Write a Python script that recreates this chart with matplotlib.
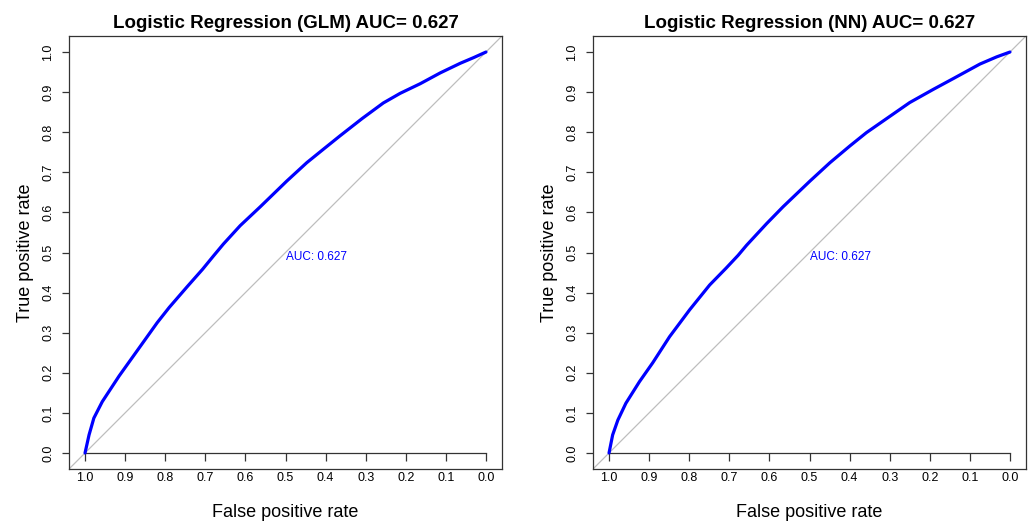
import numpy as np
import matplotlib
matplotlib.use('Agg')
import matplotlib.pyplot as plt

plt.rcParams['font.family'] = ['Liberation Sans', 'DejaVu Sans']

# ROC curves (specificity, sensitivity)
glm_spec = [1.0, 0.990, 0.978, 0.957, 0.915, 0.865, 0.820, 0.790, 0.745, 0.707,
            0.680, 0.655, 0.613, 0.563, 0.497, 0.447, 0.405, 0.364, 0.309, 0.256,
            0.214, 0.164, 0.114, 0.064, 0.031, 0.0]
glm_sens = [0.0, 0.045, 0.087, 0.128, 0.192, 0.262, 0.325, 0.363, 0.415, 0.458,
            0.491, 0.521, 0.567, 0.614, 0.678, 0.724, 0.758, 0.791, 0.834, 0.873,
            0.897, 0.921, 0.948, 0.972, 0.986, 1.0]

nn_spec = [1.0, 0.991, 0.978, 0.958, 0.924, 0.891, 0.849, 0.799, 0.749, 0.708,
           0.678, 0.657, 0.607, 0.566, 0.499, 0.449, 0.399, 0.358, 0.299, 0.250,
           0.191, 0.141, 0.075, 0.033, 0.0]
nn_sens = [0.0, 0.045, 0.082, 0.124, 0.178, 0.225, 0.290, 0.357, 0.419, 0.461,
           0.493, 0.518, 0.572, 0.614, 0.678, 0.724, 0.766, 0.799, 0.840, 0.874,
           0.907, 0.934, 0.970, 0.988, 1.0]

titles = ['Logistic Regression (GLM) AUC= 0.627', 'Logistic Regression (NN) AUC= 0.627']
auc_labels = ['AUC: 0.627', 'AUC: 0.627']
ticks = np.round(np.arange(0, 1.01, 0.1), 1)

fig = plt.figure(figsize=(10.29, 5.22), dpi=100)
lefts = [69 / 1029, 593 / 1029]

for i, (spec, sens) in enumerate([(glm_spec, glm_sens), (nn_spec, nn_sens)]):
    ax = fig.add_axes([lefts[i], 53 / 522, 433 / 1029, 433 / 522])
    ax.set_xlim(1.04, -0.04)
    ax.set_ylim(-0.04, 1.04)

    # diagonal reference
    ax.axline((1, 0), (0, 1), color='#bebebe', lw=0.9, zorder=1)
    ax.plot(spec, sens, color='#0000ff', lw=2.3, zorder=3, solid_capstyle='round')
    ax.text(0.5, 0.49, auc_labels[i], color='#0000ff', fontsize=8.5,
            ha='left', va='center')

    # x axis drawn at y=0 inside the box, like pROC
    ax.spines['bottom'].set_position(('data', 0))
    ax.spines['bottom'].set_bounds(0, 1)
    for s in ['left', 'top', 'right', 'bottom']:
        ax.spines[s].set_color('#333333')
        ax.spines[s].set_linewidth(0.9)
    ax.plot([0, 1], [0, 0], transform=ax.transAxes, color='#333333',
            lw=0.9, clip_on=False)

    ax.set_xticks(ticks)
    ax.set_xticklabels([f'{t:.1f}' for t in ticks])
    ax.set_yticks(ticks)
    ax.set_yticklabels([f'{t:.1f}' for t in ticks], rotation=90, va='center')
    ax.tick_params(axis='x', direction='out', length=5.5, width=0.9,
                   color='#333333', labelsize=9, pad=8)
    ax.tick_params(axis='y', direction='out', length=5, width=0.9,
                   color='#333333', labelsize=9, pad=5.5)

    ax.set_title(titles[i], fontsize=13.5, fontweight='bold', pad=6)
    ax.set_xlabel('False positive rate', fontsize=13)
    ax.set_ylabel('True positive rate', fontsize=13)
    ax.xaxis.set_label_coords(0.5, -0.101)
    ax.xaxis.label.set_va('center')
    ax.yaxis.set_label_coords(-0.1016, 0.5)
    ax.yaxis.label.set_va('center')

fig.savefig('out.png', dpi=100)
